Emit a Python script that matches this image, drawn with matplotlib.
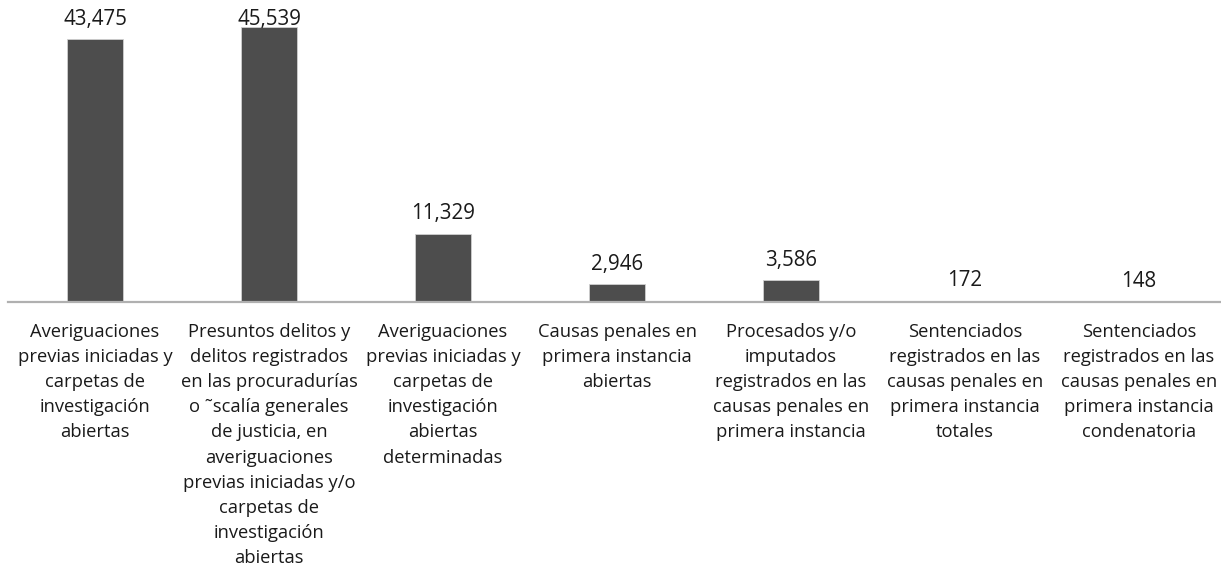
import matplotlib
matplotlib.use("Agg")
import matplotlib.pyplot as plt

categories = [
    "Averiguaciones\nprevias iniciadas y\ncarpetas de\ninvestigación\nabiertas",
    "Presuntos delitos y\ndelitos registrados\nen las procuradurías\no ˜scalía generales\nde justicia, en\naveriguaciones\nprevias iniciadas y/o\ncarpetas de\ninvestigación\nabiertas",
    "Averiguaciones\nprevias iniciadas y\ncarpetas de\ninvestigación\nabiertas\ndeterminadas",
    "Causas penales en\nprimera instancia\nabiertas",
    "Procesados y/o\nimputados\nregistrados en las\ncausas penales en\nprimera instancia",
    "Sentenciados\nregistrados en las\ncausas penales en\nprimera instancia\ntotales",
    "Sentenciados\nregistrados en las\ncausas penales en\nprimera instancia\ncondenatoria",
]
values = [43475, 45539, 11329, 2946, 3586, 172, 148]
value_labels = ["43,475", "45,539", "11,329", "2,946", "3,586", "172", "148"]

plt.rcParams["font.family"] = ["Open Sans", "DejaVu Sans"]

W, H = 1221, 569
fig = plt.figure(figsize=(W / 100, H / 100), dpi=100)
ax = fig.add_axes([8 / W, (H - 302) / H, 1218 / W, 302 / H])

x = list(range(len(values)))
ax.bar(x, values, width=0.32, color="#4d4d4d", edgecolor="#d0d0d0", linewidth=0.6)
ax.set_xlim(-0.5, len(values) - 0.5)
ax.set_ylim(0, 50000)

# value labels are kept inside the plot area: tall bars get their label
# pinned just below the top edge
label_ceiling = 43500
for xi, v, lab in zip(x, values, value_labels):
    ax.annotate(lab, (xi, min(v, label_ceiling)), xytext=(0, 10.5),
                textcoords="offset points", ha="center", va="baseline",
                fontsize=14.8, color="#1a1a1a")

for xi, cat in zip(x, categories):
    ax.annotate(cat, (xi, 0), xytext=(0, -15), textcoords="offset points",
                ha="center", va="top", fontsize=13.2, color="#1a1a1a",
                linespacing=1.51, annotation_clip=False)

for side in ["top", "left", "right"]:
    ax.spines[side].set_visible(False)
ax.spines["bottom"].set_color("#b0b0b0")
ax.spines["bottom"].set_linewidth(1.6)
ax.set_xticks([])
ax.set_yticks([])

fig.savefig("out.png", dpi=100)
